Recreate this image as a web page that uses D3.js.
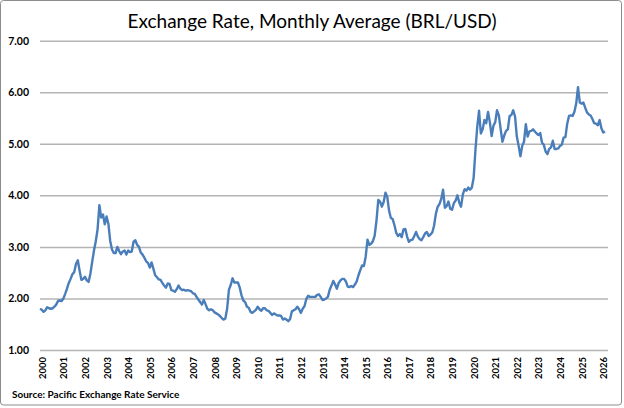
<!DOCTYPE html>
<html>
<head>
<meta charset="utf-8">
<script src="https://cdn.jsdelivr.net/npm/d3@7"></script>
<style>
  body { margin: 0; background: #fff; }
  svg { display: block; font-family: Lato, "Open Sans", sans-serif; }
</style>
</head>
<body>
<svg id="chart" width="624" height="408"></svg>
<script>
// monthly average BRL per USD, one row per year, starting Jan 2000
var startYear = 2000;
var rates = [
  1.80,1.78,1.74,1.77,1.83,1.81,1.80,1.81,1.84,1.88,1.95,1.96,
  1.95,2.00,2.09,2.19,2.30,2.38,2.47,2.51,2.67,2.74,2.54,2.36,
  2.38,2.42,2.35,2.32,2.48,2.71,2.93,3.11,3.34,3.81,3.57,3.63,
  3.44,3.59,3.45,3.12,2.95,2.88,2.88,3.00,2.92,2.86,2.91,2.93,
  2.85,2.93,2.90,2.91,3.10,3.13,3.04,3.00,2.89,2.85,2.79,2.72,
  2.69,2.60,2.70,2.58,2.45,2.41,2.37,2.36,2.30,2.25,2.21,2.29,
  2.28,2.16,2.15,2.13,2.18,2.25,2.19,2.16,2.17,2.15,2.16,2.15,
  2.14,2.10,2.09,2.03,1.98,1.93,1.88,1.97,1.89,1.80,1.77,1.79,
  1.77,1.73,1.71,1.69,1.66,1.62,1.59,1.61,1.80,2.17,2.26,2.39,
  2.31,2.31,2.31,2.21,2.06,1.96,1.93,1.84,1.82,1.74,1.72,1.75,
  1.78,1.84,1.79,1.76,1.81,1.81,1.77,1.76,1.72,1.68,1.71,1.69,
  1.67,1.67,1.66,1.59,1.61,1.59,1.56,1.60,1.75,1.77,1.79,1.84,
  1.79,1.72,1.80,1.85,1.99,2.05,2.03,2.03,2.03,2.03,2.07,2.08,
  2.03,1.97,1.98,2.00,2.03,2.17,2.25,2.34,2.27,2.19,2.30,2.35,
  2.38,2.38,2.33,2.23,2.22,2.24,2.22,2.27,2.33,2.45,2.55,2.64,
  2.63,2.81,3.14,3.04,3.06,3.11,3.22,3.51,3.91,3.88,3.78,3.87,
  4.05,3.97,3.70,3.56,3.54,3.42,3.27,3.21,3.25,3.19,3.34,3.35,
  3.20,3.10,3.13,3.14,3.21,3.29,3.20,3.15,3.13,3.19,3.26,3.29,
  3.21,3.24,3.28,3.41,3.64,3.78,3.83,3.93,4.11,3.76,3.79,3.88,
  3.74,3.72,3.85,3.90,4.00,3.86,3.78,4.02,4.12,4.09,4.15,4.11,
  4.15,4.34,4.88,5.33,5.64,5.20,5.28,5.46,5.40,5.62,5.42,5.15,
  5.35,5.42,5.65,5.55,5.29,5.04,5.16,5.25,5.28,5.54,5.56,5.65,
  5.53,5.14,4.96,4.76,4.96,5.04,5.38,5.14,5.24,5.25,5.28,5.24,
  5.20,5.17,5.21,5.02,4.98,4.85,4.80,4.90,4.93,5.06,4.90,4.90,
  4.91,4.96,4.98,5.12,5.13,5.39,5.54,5.55,5.54,5.62,5.78,6.10,
  5.80,5.78,5.80,5.70,5.61,5.57,5.55,5.48,5.40,5.39,5.36,5.46,
  5.30,5.22,5.24
];
var yearLabels = d3.range(2000, 2027);
var yTicks = [1, 2, 3, 4, 5, 6, 7];

var title = "Exchange Rate, Monthly Average (BRL/USD)";
var source = "Source: Pacific Exchange Rate Service";

// set the dimensions and margins of the graph
var margin = {top: 40.7, right: 16, bottom: 58, left: 40},
    width = 624 - margin.left - margin.right,
    height = 408 - margin.top - margin.bottom;

var root = d3.select("#chart");

// chart border
root.append("rect")
  .attr("x", 0.5).attr("y", 0.5)
  .attr("width", 621).attr("height", 404.5)
  .attr("rx", 3)
  .attr("fill", "#fff")
  .attr("stroke", "#8c8c8c")
  .attr("stroke-width", 1);

root.append("text")
  .attr("x", 312)
  .attr("y", 28)
  .attr("text-anchor", "middle")
  .attr("font-size", "19px")
  .attr("fill", "#000")
  .text(title);

root.append("text")
  .attr("x", 12)
  .attr("y", 398)
  .attr("font-size", "10px")
  .attr("font-weight", "bold")
  .text(source);

var svg = root.append("g")
  .attr("transform", "translate(" + margin.left + "," + margin.top + ")");

// x: one slot per month, last point a little short of the right edge
var x = d3.scaleLinear()
  .domain([0, rates.length - 1])
  .range([0, 565]);

var y = d3.scaleLinear()
  .domain([1, 7])
  .range([height, 0]);

// horizontal gridlines + y labels
var yAxis = svg.append("g")
  .call(d3.axisLeft(y).tickValues(yTicks).tickSize(-width).tickPadding(11)
    .tickFormat(d3.format(".2f")));
yAxis.select(".domain").remove();
yAxis.selectAll("line")
  .attr("stroke", "#b4b4b4")
  .attr("stroke-width", 1.5);
yAxis.selectAll("text")
  .attr("font-family", "Lato, sans-serif")
  .attr("font-size", "10.5px")
  .attr("font-weight", "bold")
  .attr("fill", "#000");

// year labels, rotated
var xAxis = svg.append("g")
  .attr("transform", "translate(0," + height + ")")
  .call(d3.axisBottom(x)
    .tickValues(yearLabels.map(function(yr) { return (yr - startYear) * 12; }))
    .tickSize(0)
    .tickFormat(function(d) { return startYear + d / 12; }));
xAxis.select(".domain").remove();
xAxis.selectAll("text")
  .attr("font-family", "Lato, sans-serif")
  .attr("font-size", "9.5px")
  .attr("font-weight", "bold")
  .attr("fill", "#000")
  .attr("text-anchor", "end")
  .attr("transform", "rotate(-90)")
  .attr("x", -7)
  .attr("y", 2)
  .attr("dy", "0.35em");

// the rate line
var line = d3.line()
  .x(function(d, i) { return x(i); })
  .y(function(d) { return y(d); });

svg.append("path")
  .datum(rates)
  .attr("fill", "none")
  .attr("stroke", "#4a7ebb")
  .attr("stroke-width", 2.4)
  .attr("stroke-linejoin", "round")
  .attr("d", line);
</script>
</body>
</html>
